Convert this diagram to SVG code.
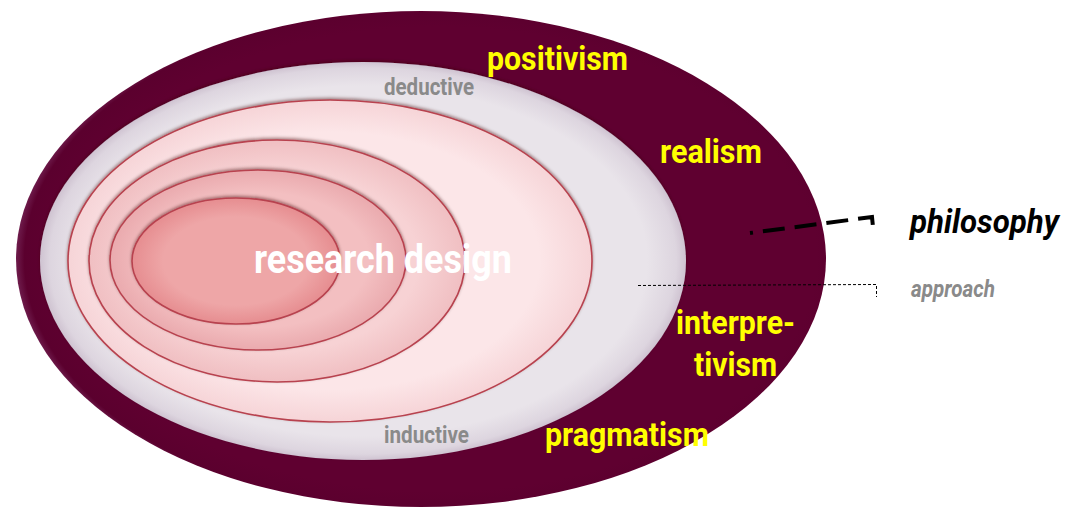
<svg xmlns="http://www.w3.org/2000/svg" width="1077" height="509" viewBox="0 0 1077 509">
<defs>
<style>
.lbl{font-family:Roboto,"Liberation Sans",sans-serif;font-weight:700}
.yel{fill:#ffff00;font-size:34px}
.gry{fill:#8a8a8a;font-size:23px}
.wht{fill:#ffffff;font-size:40px}
.ring{stroke:#b8434f;stroke-width:1.6}
</style>
<radialGradient id="gOuter" cx="0.52" cy="0.5" r="0.52">
<stop offset="0.9" stop-color="#5f0030"/>
<stop offset="0.98" stop-color="#5b002e"/>
<stop offset="1" stop-color="#6e1c4c"/>
</radialGradient>
<radialGradient id="gApp" cx="0.5" cy="0.5" r="0.5">
<stop offset="0.88" stop-color="#e9e4ea"/>
<stop offset="0.97" stop-color="#ddd5df"/>
<stop offset="1" stop-color="#cfc3d1"/>
</radialGradient>
<radialGradient id="g3" cx="0.5" cy="0.5" r="0.5">
<stop offset="0.8" stop-color="#fce6e8"/>
<stop offset="1" stop-color="#f6d4d7"/>
</radialGradient>
<radialGradient id="g4" cx="0.5" cy="0.5" r="0.5">
<stop offset="0.75" stop-color="#f7d2d4"/>
<stop offset="1" stop-color="#f0bfc2"/>
</radialGradient>
<radialGradient id="g5" cx="0.5" cy="0.5" r="0.5">
<stop offset="0.75" stop-color="#f3bfc1"/>
<stop offset="1" stop-color="#eaaaae"/>
</radialGradient>
<radialGradient id="g6" cx="0.5" cy="0.5" r="0.5">
<stop offset="0.7" stop-color="#eea6a7"/>
<stop offset="1" stop-color="#e68d90"/>
</radialGradient>
<filter id="sh" x="-10%" y="-10%" width="120%" height="120%">
<feDropShadow dx="0" dy="-1.5" stdDeviation="1.5" flood-color="#3a0010" flood-opacity="0.45"/>
</filter>
</defs>

<g id="philosophy-layer">
<ellipse cx="421" cy="259" rx="405" ry="248" fill="url(#gOuter)"/>
</g>
<g id="approach-layer">
<ellipse cx="363" cy="261" rx="323" ry="199" fill="url(#gApp)" filter="url(#sh)"/>
</g>
<g id="layer3">
<ellipse cx="330" cy="261" rx="262" ry="161" fill="url(#g3)" class="ring" filter="url(#sh)"/>
</g>
<g id="layer4">
<ellipse cx="277" cy="261" rx="188" ry="121" fill="url(#g4)" class="ring" filter="url(#sh)"/>
</g>
<g id="layer5">
<ellipse cx="258" cy="260" rx="148" ry="90" fill="url(#g5)" class="ring" filter="url(#sh)"/>
</g>
<g id="layer6">
<ellipse cx="236" cy="261" rx="104" ry="63" fill="url(#g6)" class="ring" filter="url(#sh)"/>
</g>

<g id="connectors">
<path d="M750 233 L872 217 L873 227" fill="none" stroke="#000" stroke-width="4" stroke-dasharray="3 10 22 10 22 10 22 10 22 10 40"/>
<path d="M638 285.5 L876.5 284.5 L876.5 297" fill="none" stroke="#000" stroke-width="1" stroke-dasharray="3 2"/>
</g>

<g id="labels">
<text class="lbl yel" x="487" y="70" textLength="141" lengthAdjust="spacingAndGlyphs">positivism</text>
<text class="lbl gry" x="384" y="95" textLength="90" lengthAdjust="spacingAndGlyphs">deductive</text>
<text class="lbl yel" x="660" y="163" textLength="102" lengthAdjust="spacingAndGlyphs">realism</text>
<text class="lbl wht" x="254" y="273" textLength="258" lengthAdjust="spacingAndGlyphs">research design</text>
<text class="lbl" x="910" y="233" font-size="33" font-style="italic" fill="#000" textLength="149" lengthAdjust="spacingAndGlyphs">philosophy</text>
<text class="lbl gry" x="911" y="297" font-size="22" font-style="italic" textLength="84" lengthAdjust="spacingAndGlyphs">approach</text>
<text class="lbl yel" x="676" y="334" textLength="119" lengthAdjust="spacingAndGlyphs">interpre-</text>
<text class="lbl yel" x="694" y="376" textLength="83" lengthAdjust="spacingAndGlyphs">tivism</text>
<text class="lbl yel" x="545" y="446" textLength="164" lengthAdjust="spacingAndGlyphs">pragmatism</text>
<text class="lbl gry" x="384" y="443" textLength="85" lengthAdjust="spacingAndGlyphs">inductive</text>
</g>
</svg>
